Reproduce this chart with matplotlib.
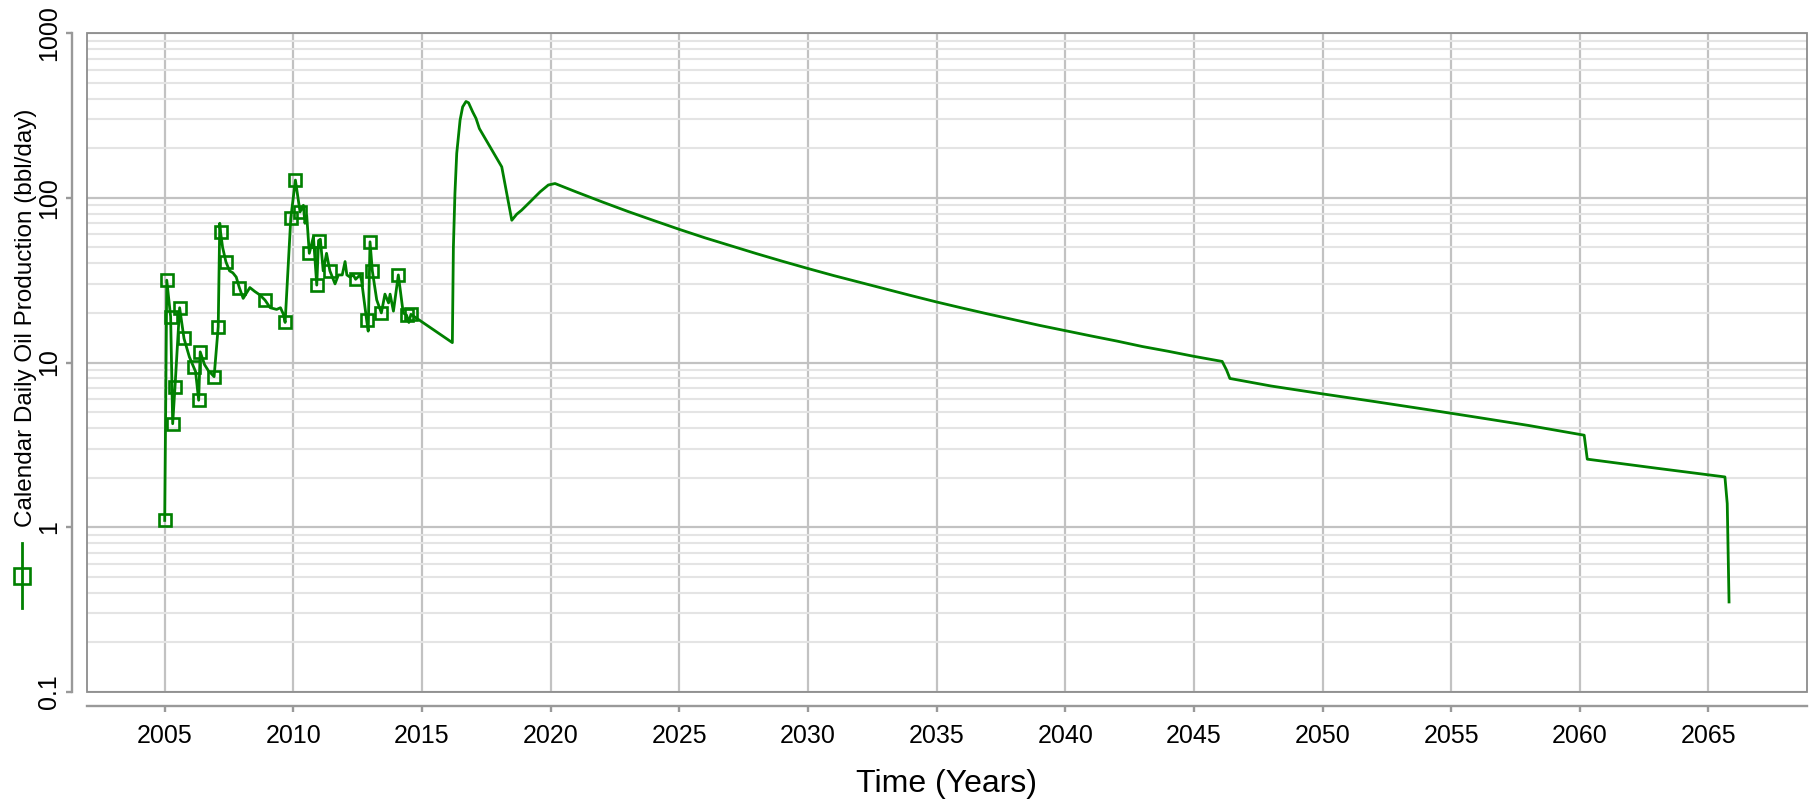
#!/usr/bin/env python3
"""
Calendar daily oil production history and forecast on a log scale
"""

import matplotlib
matplotlib.use("Agg")
import matplotlib.pyplot as plt
from matplotlib.lines import Line2D
from matplotlib.patches import Rectangle
from matplotlib.ticker import LogLocator, FixedLocator, FuncFormatter, NullFormatter
import numpy as np

# Measured production (decimal year, bbl/day, 1 = sample shown with a marker)
hist_years = [2005.00, 2005.08, 2005.23, 2005.31, 2005.40, 2005.58, 2005.75, 2005.96,
              2006.12, 2006.20, 2006.32, 2006.38, 2006.55, 2006.70, 2006.80, 2006.92,
              2007.08, 2007.14, 2007.17, 2007.25, 2007.38, 2007.52, 2007.65, 2007.78,
              2007.90, 2008.05, 2008.31, 2008.50, 2008.70, 2008.90, 2009.10, 2009.35,
              2009.50, 2009.62, 2009.68, 2009.90, 2010.08, 2010.26, 2010.39, 2010.45,
              2010.52, 2010.62, 2010.78, 2010.91, 2010.98, 2011.05, 2011.16, 2011.29,
              2011.42, 2011.62, 2011.75, 2011.90, 2012.01, 2012.08, 2012.20, 2012.33,
              2012.42, 2012.59, 2012.65, 2012.85, 2012.91, 2012.98, 2013.07, 2013.24,
              2013.42, 2013.56, 2013.70, 2013.76, 2013.89, 2014.08, 2014.27, 2014.40,
              2014.49, 2014.57]
hist_rates = [1.10, 31.6, 19.0, 4.25, 7.1, 21.5, 14.0, 10.8,
              9.4, 8.8, 5.9, 11.6, 9.7, 8.9, 8.6, 8.2,
              16.5, 70.0, 62.0, 50.0, 40.8, 36.0, 35.0, 33.0,
              28.5, 24.5, 28.5, 27.0, 25.7, 23.9, 21.5, 21.0,
              21.5, 19.5, 17.5, 75.0, 128.0, 82.0, 90.0, 70.0,
              78.0, 46.0, 58.0, 29.5, 55.0, 56.0, 36.0, 46.0,
              36.0, 30.0, 34.0, 34.0, 41.0, 34.0, 33.0, 34.0,
              32.0, 34.0, 31.5, 18.0, 15.5, 54.0, 36.0, 24.0,
              20.0, 26.0, 23.0, 26.0, 20.5, 34.0, 20.0, 19.4,
              17.5, 19.6]
hist_marked = [1, 1, 1, 1, 1, 1, 1, 0,
               1, 0, 1, 1, 0, 0, 0, 1,
               1, 0, 1, 0, 1, 0, 0, 0,
               1, 0, 0, 0, 0, 1, 0, 0,
               0, 0, 1, 1, 1, 1, 0, 0,
               0, 1, 0, 1, 1, 0, 0, 0,
               1, 0, 0, 0, 0, 0, 0, 0,
               1, 0, 0, 1, 0, 1, 1, 0,
               1, 0, 0, 0, 0, 1, 0, 1,
               0, 1]

# Forecast profile (decimal year, bbl/day)
fcst_years = [2016.18, 2016.22, 2016.28, 2016.35, 2016.48, 2016.58, 2016.71, 2016.81,
              2016.97, 2017.10, 2017.23, 2018.10, 2018.49, 2018.68, 2018.87, 2019.20,
              2019.59, 2019.91, 2020.17, 2021, 2022, 2023, 2024, 2025,
              2026, 2027, 2028, 2029, 2030, 2031, 2032, 2033,
              2034, 2035, 2036, 2037, 2038, 2039, 2040, 2041,
              2042, 2043, 2044, 2045, 2046.10, 2046.27, 2046.40, 2048,
              2050, 2052, 2054, 2056, 2058, 2060.17, 2060.29, 2063.00,
              2065.64, 2065.73, 2065.80]
fcst_rates = [13.2, 50.0, 106.0, 186.0, 296.0, 356.0, 384.0, 377.0,
              332.0, 303.0, 263.0, 154.0, 73.0, 79.4, 84.0, 94.4,
              108.6, 119.5, 122.0, 108.4, 94.4, 82.6, 72.8, 64.3,
              57.1, 51.1, 45.8, 41.2, 37.2, 33.7, 30.7, 28.0,
              25.5, 23.3, 21.4, 19.7, 18.2, 16.8, 15.6, 14.5,
              13.5, 12.5, 11.7, 10.9, 10.15, 9.0, 8.0, 7.2,
              6.45, 5.8, 5.2, 4.65, 4.15, 3.62, 2.59, 2.28,
              2.02, 1.39, 0.352]

x_ticks = [2005, 2010, 2015, 2020, 2025, 2030, 2035, 2040, 2045, 2050, 2055, 2060, 2065]
series_name = "Calendar Daily Oil Production (bbl/day)"

GREEN = "#008000"
plt.rcParams["font.family"] = ["Liberation Sans", "DejaVu Sans"]


def main():
    years = np.array(hist_years + fcst_years)
    rates = np.array(hist_rates + fcst_rates)
    marked = [i for i, m in enumerate(hist_marked) if m]

    fig = plt.figure(figsize=(18.12, 8), dpi=100)
    ax = fig.add_axes([87 / 1812, 108 / 800, 1720 / 1812, 659 / 800])

    ax.plot(years, rates, color=GREEN, linewidth=2.0, marker="s", markevery=marked,
            markersize=8.5, markerfacecolor="none", markeredgecolor=GREEN,
            markeredgewidth=1.9, zorder=4)

    ax.set_yscale("log")
    ax.set_ylim(0.1, 1000)
    ax.set_xlim(2001.98, 2068.83)

    ax.yaxis.set_major_locator(LogLocator(base=10, numticks=10))
    ax.yaxis.set_minor_locator(LogLocator(base=10, subs=np.arange(2, 10), numticks=50))
    ax.yaxis.set_major_formatter(FuncFormatter(lambda v, _: f"{v:g}"))
    ax.yaxis.set_minor_formatter(NullFormatter())
    ax.xaxis.set_major_locator(FixedLocator(x_ticks))

    # grid: darker decades / 5-year lines, light minor decades
    ax.set_axisbelow(True)
    ax.grid(which="major", axis="both", color="#c2c2c2", linewidth=1.6)
    ax.grid(which="minor", axis="y", color="#e4e4e4", linewidth=1.5)

    # detached axis lines plus a thin box round the plot area
    for side in ("top", "right"):
        ax.spines[side].set_visible(False)
    ax.spines["left"].set_position(("outward", 10.8))
    ax.spines["bottom"].set_position(("outward", 10))
    for side in ("left", "bottom"):
        ax.spines[side].set_color("#999999")
        ax.spines[side].set_linewidth(1.7)
    ax.add_patch(Rectangle((0, 0), 1, 1, transform=ax.transAxes, fill=False,
                           edgecolor="#8c8c8c", linewidth=1.3, zorder=5, clip_on=False))

    ax.tick_params(axis="both", which="major", length=4, width=1.7, color="#999999",
                   labelsize=18, labelcolor="black")
    ax.tick_params(axis="y", which="major", labelrotation=90, pad=4)
    ax.tick_params(axis="x", which="major", pad=9)
    ax.tick_params(axis="y", which="minor", length=0)
    for lbl in ax.get_yticklabels():
        lbl.set_verticalalignment("center")

    ax.set_xlabel("Time (Years)", fontsize=23, labelpad=15)
    ax.set_ylabel(series_name, fontsize=17.5, va="center")
    ax.yaxis.set_label_coords(-0.0355, 0.5675)

    # legend glyph sitting under the rotated axis title
    fig.add_artist(Line2D([22 / 1812, 22 / 1812], [1 - 543 / 800, 1 - 608 / 800],
                          transform=fig.transFigure, color=GREEN, linewidth=2.0))
    fig.add_artist(Line2D([22 / 1812], [1 - 576 / 800], transform=fig.transFigure,
                          linestyle="none", marker="s", markersize=12,
                          markerfacecolor="none", markeredgecolor=GREEN,
                          markeredgewidth=1.9))

    fig.savefig("out.png", dpi=100)
    plt.close(fig)


if __name__ == "__main__":
    main()
